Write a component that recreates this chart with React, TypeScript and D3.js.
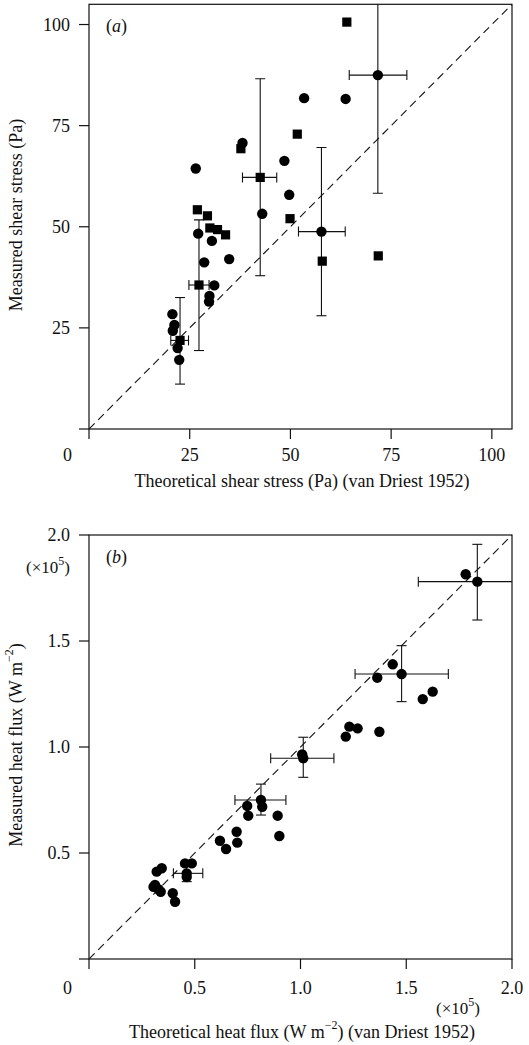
import React from "react";
import * as d3 from "d3";

// ---------- Panel (a): shear stress (Pa) ----------
const shearCircles: [number, number][] = [
  [26.5, 64.4], [38.1, 70.7], [48.5, 66.3], [49.7, 57.9], [43.0, 53.2],
  [53.4, 81.8], [63.7, 81.6], [71.7, 87.5], [57.7, 48.8],
  [27.1, 48.3], [30.5, 46.5], [28.6, 41.2], [34.8, 42.0], [31.1, 35.5],
  [29.9, 32.9], [29.8, 31.5], [20.7, 28.4], [21.2, 25.7], [20.8, 24.3],
  [22.0, 20.0], [22.4, 17.1],
];
const shearSquares: [number, number][] = [
  [42.5, 62.2], [37.7, 69.3], [26.9, 54.2], [29.4, 52.7], [51.7, 72.9],
  [49.9, 52.0], [64.0, 100.6], [57.9, 41.5], [71.8, 42.8], [27.3, 35.6],
  [30.0, 49.7], [31.9, 49.3], [33.9, 48.0], [22.6, 21.9],
];
// [x, y, xLow, xHigh, yLow, yHigh]
const shearErrors: [number, number, number, number, number, number][] = [
  [42.5, 62.2, 38.1, 46.6, 37.9, 86.6],
  [71.7, 87.5, 64.6, 78.9, 58.3, 116.7],
  [57.7, 48.8, 52.0, 63.6, 28.0, 69.6],
  [27.3, 35.6, 24.8, 29.8, 19.4, 51.7],
  [22.6, 21.9, 20.3, 24.7, 11.1, 32.5],
];
const shearTicks = [0, 25, 50, 75, 100];
const shearTickLabels = ["", "25", "50", "75", "100"];

// ---------- Panel (b): heat flux (x10^5 W m^-2) ----------
const heatCircles: [number, number][] = [
  [1.781, 1.815], [1.836, 1.780], [1.436, 1.390], [1.478, 1.344], [1.363, 1.327],
  [1.625, 1.261], [1.578, 1.226], [1.231, 1.096], [1.270, 1.088], [1.214, 1.049],
  [1.373, 1.072], [1.013, 0.947], [1.008, 0.965], [0.813, 0.750], [0.819, 0.718],
  [0.748, 0.722], [0.753, 0.676], [0.892, 0.676], [0.900, 0.580], [0.698, 0.600],
  [0.701, 0.549], [0.619, 0.558], [0.648, 0.519], [0.454, 0.451], [0.486, 0.451],
  [0.462, 0.404], [0.462, 0.387], [0.344, 0.428], [0.320, 0.412], [0.312, 0.349],
  [0.328, 0.329], [0.339, 0.317], [0.305, 0.340], [0.396, 0.310], [0.407, 0.270],
];
const heatErrors: [number, number, number, number, number, number][] = [
  [1.836, 1.780, 1.557, 2.115, 1.599, 1.956],
  [1.478, 1.344, 1.258, 1.699, 1.214, 1.478],
  [1.013, 0.947, 0.859, 1.158, 0.857, 1.046],
  [0.813, 0.750, 0.690, 0.931, 0.679, 0.825],
  [0.462, 0.404, 0.399, 0.538, 0.365, 0.445],
];
const heatTicks = [0, 0.5, 1.0, 1.5, 2.0];
const heatTickLabels = ["", "0.5", "1.0", "1.5", "2.0"];

const FONT = "'Liberation Serif', 'Times New Roman', Times, serif";
const INK = "#111";

type PanelProps = {
  id: string;
  domainMax: number;
  xRange: [number, number];
  yRange: [number, number];
  circles: [number, number][];
  squares: [number, number][];
  errors: [number, number, number, number, number, number][];
  ticks: number[];
  tickLabels: string[];
  label: string;
  labelOffset: number;
};

function Panel(p: PanelProps) {
  const x = d3.scaleLinear().domain([0, p.domainMax]).range(p.xRange);
  const y = d3.scaleLinear().domain([0, p.domainMax]).range(p.yRange);
  const [x0, x1] = p.xRange;
  const [y0, y1] = p.yRange;
  const cap = 5;
  const tickLen = 10;
  return (
    <g>
      <defs>
        <clipPath id={`clip-${p.id}`}>
          <rect x={x0} y={y1} width={x1 - x0} height={y0 - y1} />
        </clipPath>
      </defs>
      <rect x={x0} y={y1} width={x1 - x0} height={y0 - y1} fill="none" stroke={INK} strokeWidth={1.2} />
      {p.ticks.map((t, i) => (
        <g key={`xt${i}`}>
          <line x1={x(t)} x2={x(t)} y1={y0} y2={y0 + tickLen} stroke={INK} strokeWidth={1.2} />
          <line x1={x0 - tickLen} x2={x0} y1={y(t)} y2={y(t)} stroke={INK} strokeWidth={1.2} />
          {p.tickLabels[i] && (
            <text x={x(t)} y={y0 + p.labelOffset} textAnchor="middle" dominantBaseline="central" fontSize={18} fontFamily={FONT} fill={INK}>
              {p.tickLabels[i]}
            </text>
          )}
          {p.tickLabels[i] && (
            <text x={70} y={y(t)} textAnchor="end" dominantBaseline="central" fontSize={18} fontFamily={FONT} fill={INK}>
              {p.tickLabels[i]}
            </text>
          )}
        </g>
      ))}
      <text x={67.5} y={y0 + p.labelOffset} textAnchor="middle" dominantBaseline="central" fontSize={18} fontFamily={FONT} fill={INK}>0</text>
      <text x={x0 + 17} y={y1 + 28} fontSize={18} fontFamily={FONT} fill={INK}>
        (<tspan fontStyle="italic">{p.label}</tspan>)
      </text>
      <g clipPath={`url(#clip-${p.id})`}>
        <line x1={x(0)} y1={y(0)} x2={x(p.domainMax)} y2={y(p.domainMax)} stroke={INK} strokeWidth={1.1} strokeDasharray="8,5" />
        {p.errors.map((e, i) => (
          <g key={`e${i}`} stroke={INK} strokeWidth={1.1}>
            <line x1={x(e[0])} x2={x(e[0])} y1={y(e[4])} y2={y(e[5])} />
            <line x1={x(e[0]) - cap} x2={x(e[0]) + cap} y1={y(e[4])} y2={y(e[4])} />
            <line x1={x(e[0]) - cap} x2={x(e[0]) + cap} y1={y(e[5])} y2={y(e[5])} />
            <line x1={x(e[2])} x2={x(e[3])} y1={y(e[1])} y2={y(e[1])} />
            <line x1={x(e[2])} x2={x(e[2])} y1={y(e[1]) - cap} y2={y(e[1]) + cap} />
            <line x1={x(e[3])} x2={x(e[3])} y1={y(e[1]) - cap} y2={y(e[1]) + cap} />
          </g>
        ))}
        {p.circles.map((c, i) => (
          <circle key={`c${i}`} cx={x(c[0])} cy={y(c[1])} r={5.2} fill="#000" />
        ))}
        {p.squares.map((s, i) => (
          <rect key={`s${i}`} x={x(s[0]) - 4.6} y={y(s[1]) - 4.6} width={9.2} height={9.2} fill="#000" />
        ))}
      </g>
    </g>
  );
}

export default function App() {
  return (
    <svg width={529} height={1045} style={{ position: "absolute", left: 0, top: 0, background: "#fff" }}>
      <rect x={0} y={0} width={529} height={1045} fill="#fff" />
      <Panel
        id="a"
        domainMax={105}
        xRange={[89, 512]}
        yRange={[429, 4.3]}
        circles={shearCircles}
        squares={shearSquares}
        errors={shearErrors}
        ticks={shearTicks}
        tickLabels={shearTickLabels}
        label="a"
        labelOffset={26}
      />
      <text x={302} y={481} textAnchor="middle" dominantBaseline="central" fontSize={18} fontFamily={FONT} fill={INK}>
        Theoretical shear stress (Pa) (van Driest 1952)
      </text>
      <text transform="translate(16,215) rotate(-90)" textAnchor="middle" dominantBaseline="central" fontSize={18} fontFamily={FONT} fill={INK}>
        Measured shear stress (Pa)
      </text>

      <Panel
        id="b"
        domainMax={2}
        xRange={[89, 512]}
        yRange={[959, 535]}
        circles={heatCircles}
        squares={[]}
        errors={heatErrors}
        ticks={heatTicks}
        tickLabels={heatTickLabels}
        label="b"
        labelOffset={29}
      />
      <text x={48} y={567} textAnchor="middle" dominantBaseline="central" fontSize={17} fontFamily={FONT} fill={INK}>
        (×10<tspan dy={-6} fontSize={12}>5</tspan><tspan dy={6}>)</tspan>
      </text>
      <text x={458} y={1008} textAnchor="middle" dominantBaseline="central" fontSize={17} fontFamily={FONT} fill={INK}>
        (×10<tspan dy={-6} fontSize={12}>5</tspan><tspan dy={6}>)</tspan>
      </text>
      <text x={302} y={1031.5} textAnchor="middle" dominantBaseline="central" fontSize={18} fontFamily={FONT} fill={INK}>
        Theoretical heat flux (W m<tspan dy={-7} fontSize={12}>−2</tspan><tspan dy={7}>) (van Driest 1952)</tspan>
      </text>
      <text transform="translate(16,745) rotate(-90)" textAnchor="middle" dominantBaseline="central" fontSize={18} fontFamily={FONT} fill={INK}>
        Measured heat flux (W m<tspan dy={-7} fontSize={12}>−2</tspan><tspan dy={7}>)</tspan>
      </text>
    </svg>
  );
}
